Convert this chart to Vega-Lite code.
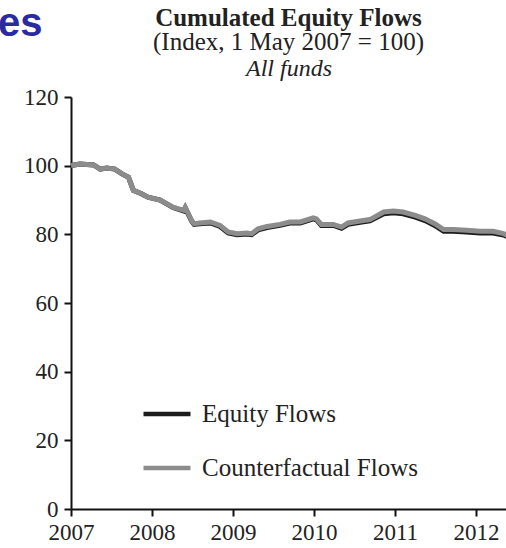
{
  "$schema": "https://vega.github.io/schema/vega-lite/v6.json",
  "autosize": {"type": "none"},
  "width": 435,
  "height": 412,
  "padding": {"left": 71, "top": 97, "right": 0, "bottom": 39},
  "background": "white",
  "title": {
    "text": "Cumulated Equity Flows",
    "subtitle": "(Index, 1 May 2007 = 100)",
    "anchor": "middle",
    "font": "Liberation Serif",
    "fontSize": 25,
    "fontWeight": "bold",
    "color": "#222222",
    "subtitleFont": "Liberation Serif",
    "subtitleFontSize": 25,
    "subtitleColor": "#222222",
    "subtitlePadding": -1,
    "offset": -52
  },
  "config": {
    "view": {"stroke": null},
    "axis": {
      "labelFont": "Liberation Serif",
      "labelFontSize": 23,
      "labelColor": "#222222",
      "domainColor": "#111111",
      "domainWidth": 2,
      "tickColor": "#111111",
      "tickWidth": 2,
      "tickSize": 7,
      "grid": false
    }
  },
  "datasets": {
    "flows": [
      {"series": "Equity Flows", "t": 2007.00, "v": 100.0},
      {"series": "Equity Flows", "t": 2007.11, "v": 100.5},
      {"series": "Equity Flows", "t": 2007.28, "v": 100.2},
      {"series": "Equity Flows", "t": 2007.36, "v": 99.0},
      {"series": "Equity Flows", "t": 2007.44, "v": 99.3},
      {"series": "Equity Flows", "t": 2007.54, "v": 99.0},
      {"series": "Equity Flows", "t": 2007.63, "v": 97.6},
      {"series": "Equity Flows", "t": 2007.71, "v": 96.6},
      {"series": "Equity Flows", "t": 2007.77, "v": 92.8},
      {"series": "Equity Flows", "t": 2007.87, "v": 91.8},
      {"series": "Equity Flows", "t": 2007.95, "v": 90.8},
      {"series": "Equity Flows", "t": 2008.10, "v": 90.0},
      {"series": "Equity Flows", "t": 2008.26, "v": 87.8},
      {"series": "Equity Flows", "t": 2008.39, "v": 86.8},
      {"series": "Equity Flows", "t": 2008.41, "v": 87.7},
      {"series": "Equity Flows", "t": 2008.49, "v": 83.8},
      {"series": "Equity Flows", "t": 2008.52, "v": 82.9},
      {"series": "Equity Flows", "t": 2008.59, "v": 83.1},
      {"series": "Equity Flows", "t": 2008.72, "v": 83.3},
      {"series": "Equity Flows", "t": 2008.84, "v": 82.3},
      {"series": "Equity Flows", "t": 2008.94, "v": 80.4},
      {"series": "Equity Flows", "t": 2009.05, "v": 79.9},
      {"series": "Equity Flows", "t": 2009.17, "v": 80.1},
      {"series": "Equity Flows", "t": 2009.23, "v": 79.9},
      {"series": "Equity Flows", "t": 2009.31, "v": 81.3},
      {"series": "Equity Flows", "t": 2009.42, "v": 82.0},
      {"series": "Equity Flows", "t": 2009.58, "v": 82.6},
      {"series": "Equity Flows", "t": 2009.70, "v": 83.3},
      {"series": "Equity Flows", "t": 2009.83, "v": 83.3},
      {"series": "Equity Flows", "t": 2009.99, "v": 84.5},
      {"series": "Equity Flows", "t": 2010.03, "v": 84.2},
      {"series": "Equity Flows", "t": 2010.09, "v": 82.6},
      {"series": "Equity Flows", "t": 2010.24, "v": 82.6},
      {"series": "Equity Flows", "t": 2010.34, "v": 81.8},
      {"series": "Equity Flows", "t": 2010.42, "v": 82.9},
      {"series": "Equity Flows", "t": 2010.57, "v": 83.5},
      {"series": "Equity Flows", "t": 2010.69, "v": 83.9},
      {"series": "Equity Flows", "t": 2010.86, "v": 86.0},
      {"series": "Equity Flows", "t": 2010.98, "v": 86.3},
      {"series": "Equity Flows", "t": 2011.10, "v": 86.0},
      {"series": "Equity Flows", "t": 2011.25, "v": 85.0},
      {"series": "Equity Flows", "t": 2011.37, "v": 84.0},
      {"series": "Equity Flows", "t": 2011.49, "v": 82.6},
      {"series": "Equity Flows", "t": 2011.60, "v": 80.9},
      {"series": "Equity Flows", "t": 2011.72, "v": 80.9},
      {"series": "Equity Flows", "t": 2011.88, "v": 80.7},
      {"series": "Equity Flows", "t": 2012.05, "v": 80.4},
      {"series": "Equity Flows", "t": 2012.21, "v": 80.4},
      {"series": "Equity Flows", "t": 2012.34, "v": 79.8},
      {"series": "Equity Flows", "t": 2012.40, "v": 79.2},
      {"series": "Counterfactual Flows", "t": 2007.00, "v": 100.0},
      {"series": "Counterfactual Flows", "t": 2007.11, "v": 100.5},
      {"series": "Counterfactual Flows", "t": 2007.28, "v": 100.2},
      {"series": "Counterfactual Flows", "t": 2007.36, "v": 99.0},
      {"series": "Counterfactual Flows", "t": 2007.44, "v": 99.3},
      {"series": "Counterfactual Flows", "t": 2007.54, "v": 99.0},
      {"series": "Counterfactual Flows", "t": 2007.63, "v": 97.6},
      {"series": "Counterfactual Flows", "t": 2007.71, "v": 96.6},
      {"series": "Counterfactual Flows", "t": 2007.77, "v": 92.8},
      {"series": "Counterfactual Flows", "t": 2007.87, "v": 91.8},
      {"series": "Counterfactual Flows", "t": 2007.95, "v": 90.8},
      {"series": "Counterfactual Flows", "t": 2008.10, "v": 90.0},
      {"series": "Counterfactual Flows", "t": 2008.26, "v": 87.9},
      {"series": "Counterfactual Flows", "t": 2008.39, "v": 87.0},
      {"series": "Counterfactual Flows", "t": 2008.41, "v": 87.9},
      {"series": "Counterfactual Flows", "t": 2008.49, "v": 84.0},
      {"series": "Counterfactual Flows", "t": 2008.52, "v": 83.1},
      {"series": "Counterfactual Flows", "t": 2008.59, "v": 83.3},
      {"series": "Counterfactual Flows", "t": 2008.72, "v": 83.6},
      {"series": "Counterfactual Flows", "t": 2008.84, "v": 82.6},
      {"series": "Counterfactual Flows", "t": 2008.94, "v": 80.7},
      {"series": "Counterfactual Flows", "t": 2009.05, "v": 80.2},
      {"series": "Counterfactual Flows", "t": 2009.17, "v": 80.4},
      {"series": "Counterfactual Flows", "t": 2009.23, "v": 80.2},
      {"series": "Counterfactual Flows", "t": 2009.31, "v": 81.6},
      {"series": "Counterfactual Flows", "t": 2009.42, "v": 82.3},
      {"series": "Counterfactual Flows", "t": 2009.58, "v": 82.9},
      {"series": "Counterfactual Flows", "t": 2009.70, "v": 83.6},
      {"series": "Counterfactual Flows", "t": 2009.83, "v": 83.6},
      {"series": "Counterfactual Flows", "t": 2009.99, "v": 84.8},
      {"series": "Counterfactual Flows", "t": 2010.03, "v": 84.5},
      {"series": "Counterfactual Flows", "t": 2010.09, "v": 82.9},
      {"series": "Counterfactual Flows", "t": 2010.24, "v": 82.9},
      {"series": "Counterfactual Flows", "t": 2010.34, "v": 82.1},
      {"series": "Counterfactual Flows", "t": 2010.42, "v": 83.3},
      {"series": "Counterfactual Flows", "t": 2010.57, "v": 83.9},
      {"series": "Counterfactual Flows", "t": 2010.69, "v": 84.3},
      {"series": "Counterfactual Flows", "t": 2010.86, "v": 86.5},
      {"series": "Counterfactual Flows", "t": 2010.98, "v": 86.8},
      {"series": "Counterfactual Flows", "t": 2011.10, "v": 86.5},
      {"series": "Counterfactual Flows", "t": 2011.25, "v": 85.5},
      {"series": "Counterfactual Flows", "t": 2011.37, "v": 84.5},
      {"series": "Counterfactual Flows", "t": 2011.49, "v": 83.1},
      {"series": "Counterfactual Flows", "t": 2011.60, "v": 81.4},
      {"series": "Counterfactual Flows", "t": 2011.72, "v": 81.4},
      {"series": "Counterfactual Flows", "t": 2011.88, "v": 81.2},
      {"series": "Counterfactual Flows", "t": 2012.05, "v": 80.9},
      {"series": "Counterfactual Flows", "t": 2012.21, "v": 80.9},
      {"series": "Counterfactual Flows", "t": 2012.34, "v": 80.2},
      {"series": "Counterfactual Flows", "t": 2012.40, "v": 79.6}
    ]
  },
  "data": {"name": "flows"},
  "resolve": {"axis": {"x": "independent"}},
  "layer": [
    {
      "transform": [{"filter": "datum.series === 'Equity Flows'"}],
      "mark": {"type": "line", "strokeWidth": 5, "clip": true},
      "encoding": {
        "x": {
          "field": "t", "type": "quantitative",
          "scale": {"domain": [2007, 2012.37], "nice": false, "zero": false},
          "axis": {"orient": "bottom", "title": null, "values": [2007, 2008, 2009, 2010, 2011, 2012], "format": "d", "labelPadding": 5, "labelFlush": false}
        },
        "y": {
          "field": "v", "type": "quantitative",
          "scale": {"domain": [0, 120], "nice": false},
          "axis": {
            "values": [0, 20, 40, 60, 80, 100, 120], "labelPadding": 6,
            "title": "es", "titleAngle": 0, "titleAlign": "right", "titleBaseline": "alphabetic",
            "titleX": -29, "titleY": -62,
            "titleFont": "Liberation Sans", "titleFontSize": 40, "titleFontWeight": "bold", "titleColor": "#2a2aa3"
          }
        },
        "color": {
          "field": "series", "type": "nominal",
          "scale": {"domain": ["Equity Flows", "Counterfactual Flows"], "range": ["#1c1c1c", "#8c8c8c"]},
          "legend": {
            "title": null, "orient": "none", "legendX": 70, "legendY": 291,
            "symbolType": "stroke", "symbolSize": 2209, "symbolStrokeWidth": 4.5,
            "labelFont": "Liberation Serif", "labelFontSize": 25, "labelColor": "#222222",
            "labelOffset": 9, "rowPadding": 15, "labelLimit": 400
          }
        }
      }
    },
    {
      "transform": [{"filter": "datum.series === 'Counterfactual Flows'"}],
      "mark": {"type": "line", "strokeWidth": 5, "clip": true},
      "encoding": {
        "x": {
          "field": "t", "type": "quantitative",
          "axis": {"orient": "top", "title": "All funds", "labels": false, "ticks": false, "domain": false,
                   "titleFont": "Liberation Serif", "titleFontSize": 24, "titleFontStyle": "italic", "titleFontWeight": "normal", "titleColor": "#222222", "titlePadding": 17}
        },
        "y": {"field": "v", "type": "quantitative"},
        "color": {"field": "series", "type": "nominal"}
      }
    }
  ]
}
